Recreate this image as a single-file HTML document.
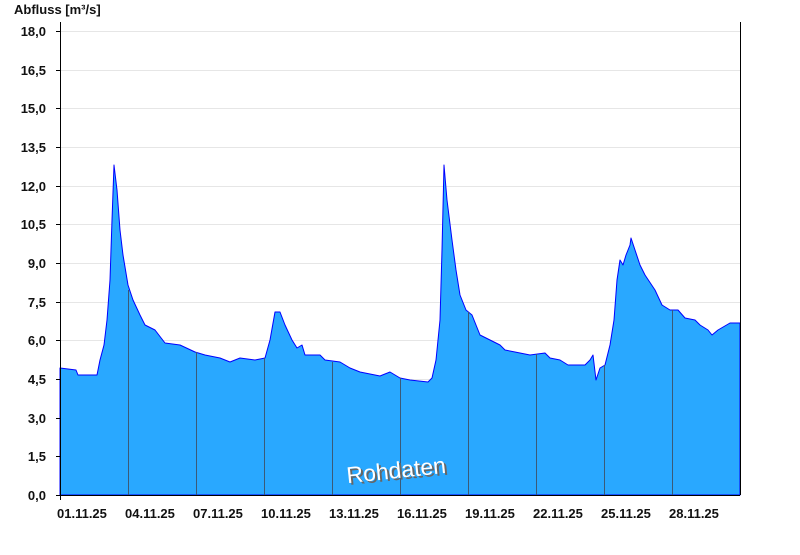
<!DOCTYPE html>
<html><head><meta charset="utf-8"><style>
body{margin:0;background:#fff;width:800px;height:550px;overflow:hidden;font-family:"Liberation Sans",Arial,sans-serif}
</style></head><body>
<svg width="800" height="550" xmlns="http://www.w3.org/2000/svg" font-family="Liberation Sans, Arial, sans-serif">
<text x="14" y="14" font-size="13" font-weight="bold" fill="#111">Abfluss [m³/s]</text>
<g stroke="#e6e6e6" stroke-width="1">
<line x1="61" x2="740" y1="31.5" y2="31.5"/><line x1="61" x2="740" y1="70.5" y2="70.5"/><line x1="61" x2="740" y1="108.5" y2="108.5"/><line x1="61" x2="740" y1="147.5" y2="147.5"/><line x1="61" x2="740" y1="186.5" y2="186.5"/><line x1="61" x2="740" y1="224.5" y2="224.5"/><line x1="61" x2="740" y1="263.5" y2="263.5"/><line x1="61" x2="740" y1="302.5" y2="302.5"/><line x1="61" x2="740" y1="340.5" y2="340.5"/><line x1="61" x2="740" y1="379.5" y2="379.5"/><line x1="61" x2="740" y1="418.5" y2="418.5"/><line x1="61" x2="740" y1="456.5" y2="456.5"/>
</g>
<polygon fill="#29a8ff" stroke="#0000ff" stroke-width="1" stroke-linejoin="round" points="60,495 60,368 76,370 78,375 97,375 100,360 104,345 107,320 110,280 112,220 114,165 117,190 120,230 123,255 128,285 133,300 140,315 145,325 155,330 165,343 180,345 195,352 205,355 220,358 230,362 240,358 255,360 265,358 270,340 275,312 280,312 285,325 292,340 297,348 302,345 305,355 320,355 325,360 340,362 350,368 360,372 380,376 390,372 400,378 410,380 428,382 432,378 436,360 440,320 442,250 444,165 447,200 452,240 456,270 460,295 466,310 472,315 476,325 480,335 490,340 500,345 505,350 515,352 530,355 545,353 550,358 560,360 568,365 585,365 590,360 593,355 596,380 600,368 605,365 610,345 614,320 617,280 620,260 623,265 626,255 630,245 631,238 635,250 640,265 645,275 655,290 662,305 670,310 678,310 685,318 695,320 700,325 708,330 712,335 718,330 730,323 740,323 740,495"/>
<g stroke="#3a5a78" stroke-width="1">
<line x1="128.5" x2="128.5" y1="290" y2="495"/><line x1="196.5" x2="196.5" y1="352" y2="495"/><line x1="264.5" x2="264.5" y1="358" y2="495"/><line x1="332.5" x2="332.5" y1="362" y2="495"/><line x1="400.5" x2="400.5" y1="378" y2="495"/><line x1="468.5" x2="468.5" y1="312" y2="495"/><line x1="536.5" x2="536.5" y1="354" y2="495"/><line x1="604.5" x2="604.5" y1="365" y2="495"/><line x1="672.5" x2="672.5" y1="310" y2="495"/>
</g>
<g stroke="#000" stroke-width="1">
<line x1="60.5" x2="60.5" y1="22" y2="500"/><line x1="740.5" x2="740.5" y1="22" y2="495"/><line x1="56" x2="740" y1="495.5" y2="495.5"/>
<line x1="56" x2="60" y1="31.5" y2="31.5"/><line x1="56" x2="60" y1="70.5" y2="70.5"/><line x1="56" x2="60" y1="108.5" y2="108.5"/><line x1="56" x2="60" y1="147.5" y2="147.5"/><line x1="56" x2="60" y1="186.5" y2="186.5"/><line x1="56" x2="60" y1="224.5" y2="224.5"/><line x1="56" x2="60" y1="263.5" y2="263.5"/><line x1="56" x2="60" y1="302.5" y2="302.5"/><line x1="56" x2="60" y1="340.5" y2="340.5"/><line x1="56" x2="60" y1="379.5" y2="379.5"/><line x1="56" x2="60" y1="418.5" y2="418.5"/><line x1="56" x2="60" y1="456.5" y2="456.5"/>
</g>
<g id="xt" stroke="#000"></g>
<g font-size="13" font-weight="bold" fill="#111" text-anchor="end">
<text x="46" y="36">18,0</text><text x="46" y="75">16,5</text><text x="46" y="113">15,0</text><text x="46" y="152">13,5</text><text x="46" y="191">12,0</text><text x="46" y="229">10,5</text><text x="46" y="268">9,0</text><text x="46" y="307">7,5</text><text x="46" y="345">6,0</text><text x="46" y="384">4,5</text><text x="46" y="423">3,0</text><text x="46" y="461">1,5</text><text x="46" y="500">0,0</text>
</g>
<g font-size="13" font-weight="bold" fill="#111">
<text x="57" y="518">01.11.25</text><text x="125" y="518">04.11.25</text><text x="193" y="518">07.11.25</text><text x="261" y="518">10.11.25</text><text x="329" y="518">13.11.25</text><text x="397" y="518">16.11.25</text><text x="465" y="518">19.11.25</text><text x="533" y="518">22.11.25</text><text x="601" y="518">25.11.25</text><text x="669" y="518">28.11.25</text>
</g>
<g transform="rotate(-6 397 468)" font-size="23">
<text x="348" y="480" fill="#666">Rohdaten</text>
<text x="346" y="478" fill="#fff">Rohdaten</text>
</g>
<script>
var g=document.getElementById('xt'),s='';
for(var i=0;i<=30;i++){var x=60.5+i*680/30;x=Math.round(x-0.5)+0.5;s+='<line x1="'+x+'" x2="'+x+'" y1="495" y2="'+(i%3==0?501:499)+'"/>';}
g.innerHTML=s;
</script>
</svg>
</body></html>
